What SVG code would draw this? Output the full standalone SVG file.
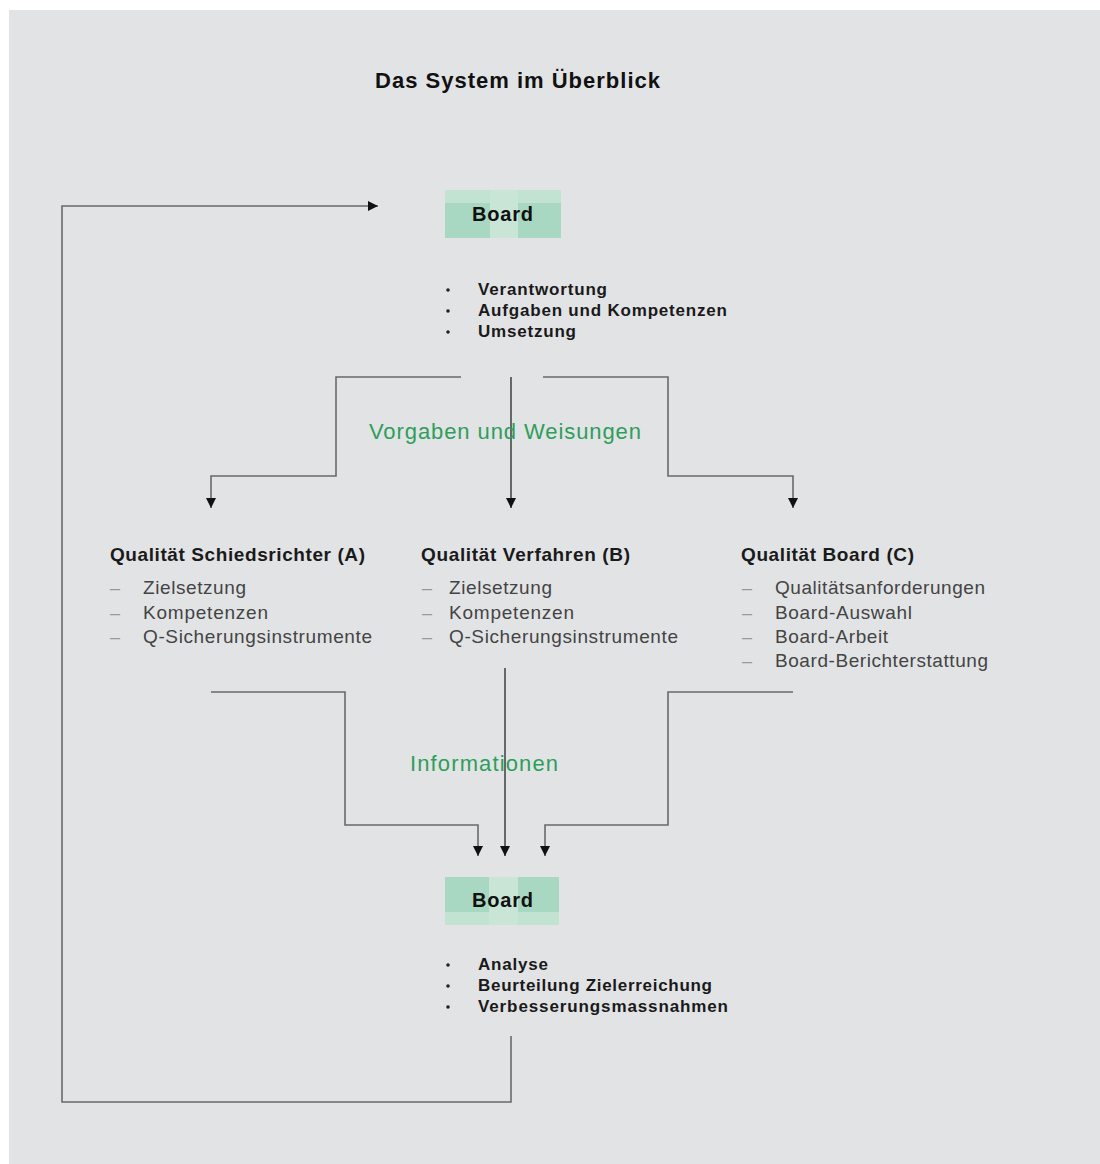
<svg xmlns="http://www.w3.org/2000/svg" width="1100" height="1164" viewBox="0 0 1100 1164">
<defs>
<style>
.t{font-family:"Liberation Sans",Arial,sans-serif}
.title{font-size:22px;font-weight:bold;fill:#111}
.bx{font-size:20px;font-weight:bold;fill:#111}
.bl{font-size:17px;font-weight:bold;fill:#1a1a1a}
.hd{font-size:19px;font-weight:bold;fill:#1a1a1a}
.it{font-size:19px;fill:#444}
.ds{font-size:18px;fill:#999}
.lab{font-size:22px;fill:#2e9e5b}
.ln{fill:none;stroke:#6a6a6a;stroke-width:1.6}
.lnd{fill:none;stroke:#333;stroke-width:1.4}
</style>
<marker id="ah" viewBox="0 0 10 10" refX="10" refY="5" markerWidth="10" markerHeight="10" markerUnits="userSpaceOnUse" orient="auto">
<path d="M0,0 L10,5 L0,10 z" fill="#111"/>
</marker>
</defs>
<rect x="9" y="10" width="1091" height="1154" fill="#e2e3e5"/>
<text class="t title" x="375" y="88" textLength="285" lengthAdjust="spacing">Das System im Überblick</text>

<g id="board-top">
<rect x="445" y="190" width="116" height="48" fill="#a8d8c1"/>
<rect x="445" y="190" width="116" height="13" fill="#c3e3d2"/>
<rect x="490" y="190" width="28" height="48" fill="#c8e5d6"/>
<text class="t bx" x="472" y="221" textLength="61" lengthAdjust="spacing">Board</text>
</g>
<g id="board-top-list">
<circle cx="448" cy="290" r="1.8" fill="#222"/>
<circle cx="448" cy="311" r="1.8" fill="#222"/>
<circle cx="448" cy="332" r="1.8" fill="#222"/>
<text class="t bl" x="478" y="295" textLength="129" lengthAdjust="spacing">Verantwortung</text>
<text class="t bl" x="478" y="316" textLength="249" lengthAdjust="spacing">Aufgaben und Kompetenzen</text>
<text class="t bl" x="478" y="337" textLength="98" lengthAdjust="spacing">Umsetzung</text>
</g>

<g id="col-a">
<text class="t hd" x="110" y="561" textLength="255" lengthAdjust="spacing">Qualität Schiedsrichter (A)</text>
<text class="t ds" x="110" y="594">–</text>
<text class="t ds" x="110" y="619">–</text>
<text class="t ds" x="110" y="643">–</text>
<text class="t it" x="143" y="594" textLength="103" lengthAdjust="spacing">Zielsetzung</text>
<text class="t it" x="143" y="619" textLength="125" lengthAdjust="spacing">Kompetenzen</text>
<text class="t it" x="143" y="643" textLength="229" lengthAdjust="spacing">Q-Sicherungsinstrumente</text>
</g>
<g id="col-b">
<text class="t hd" x="421" y="561" textLength="209" lengthAdjust="spacing">Qualität Verfahren (B)</text>
<text class="t ds" x="422" y="594">–</text>
<text class="t ds" x="422" y="619">–</text>
<text class="t ds" x="422" y="643">–</text>
<text class="t it" x="449" y="594" textLength="103" lengthAdjust="spacing">Zielsetzung</text>
<text class="t it" x="449" y="619" textLength="125" lengthAdjust="spacing">Kompetenzen</text>
<text class="t it" x="449" y="643" textLength="229" lengthAdjust="spacing">Q-Sicherungsinstrumente</text>
</g>
<g id="col-c">
<text class="t hd" x="741" y="561" textLength="173" lengthAdjust="spacing">Qualität Board (C)</text>
<text class="t ds" x="742" y="594">–</text>
<text class="t ds" x="742" y="619">–</text>
<text class="t ds" x="742" y="643">–</text>
<text class="t ds" x="742" y="667">–</text>
<text class="t it" x="775" y="594" textLength="210" lengthAdjust="spacing">Qualitätsanforderungen</text>
<text class="t it" x="775" y="619" textLength="137" lengthAdjust="spacing">Board-Auswahl</text>
<text class="t it" x="775" y="643" textLength="113" lengthAdjust="spacing">Board-Arbeit</text>
<text class="t it" x="775" y="667" textLength="213" lengthAdjust="spacing">Board-Berichterstattung</text>
</g>

<g id="board-bottom">
<rect x="445" y="877" width="114" height="48" fill="#a8d8c1"/>
<rect x="445" y="912" width="114" height="13" fill="#c3e3d2"/>
<rect x="489" y="877" width="29" height="48" fill="#c8e5d6"/>
<text class="t bx" x="472" y="907" textLength="61" lengthAdjust="spacing">Board</text>
</g>
<g id="board-bottom-list">
<circle cx="448" cy="965" r="1.8" fill="#222"/>
<circle cx="448" cy="986" r="1.8" fill="#222"/>
<circle cx="448" cy="1007" r="1.8" fill="#222"/>
<text class="t bl" x="478" y="970" textLength="70" lengthAdjust="spacing">Analyse</text>
<text class="t bl" x="478" y="991" textLength="234" lengthAdjust="spacing">Beurteilung Zielerreichung</text>
<text class="t bl" x="478" y="1012" textLength="250" lengthAdjust="spacing">Verbesserungsmassnahmen</text>
</g>

<g id="connectors">
<path class="ln" d="M461,377 H336 V476 H211 V508" marker-end="url(#ah)"/>
<path class="lnd" d="M511,377 V508" marker-end="url(#ah)"/>
<path class="ln" d="M543,377 H668 V476 H793 V508" marker-end="url(#ah)"/>
<path class="ln" d="M211,692 H345 V825 H478 V856" marker-end="url(#ah)"/>
<path class="lnd" d="M505,668 V856" marker-end="url(#ah)"/>
<path class="ln" d="M793,692 H668 V825 H545 V856" marker-end="url(#ah)"/>
<path class="ln" d="M511,1036 V1102 H62 V206 H378" marker-end="url(#ah)"/>
<text class="t lab" x="369" y="439" textLength="272" lengthAdjust="spacing">Vorgaben und Weisungen</text>
<text class="t lab" x="410" y="771" textLength="148" lengthAdjust="spacing">Informationen</text>
</g>
</svg>
